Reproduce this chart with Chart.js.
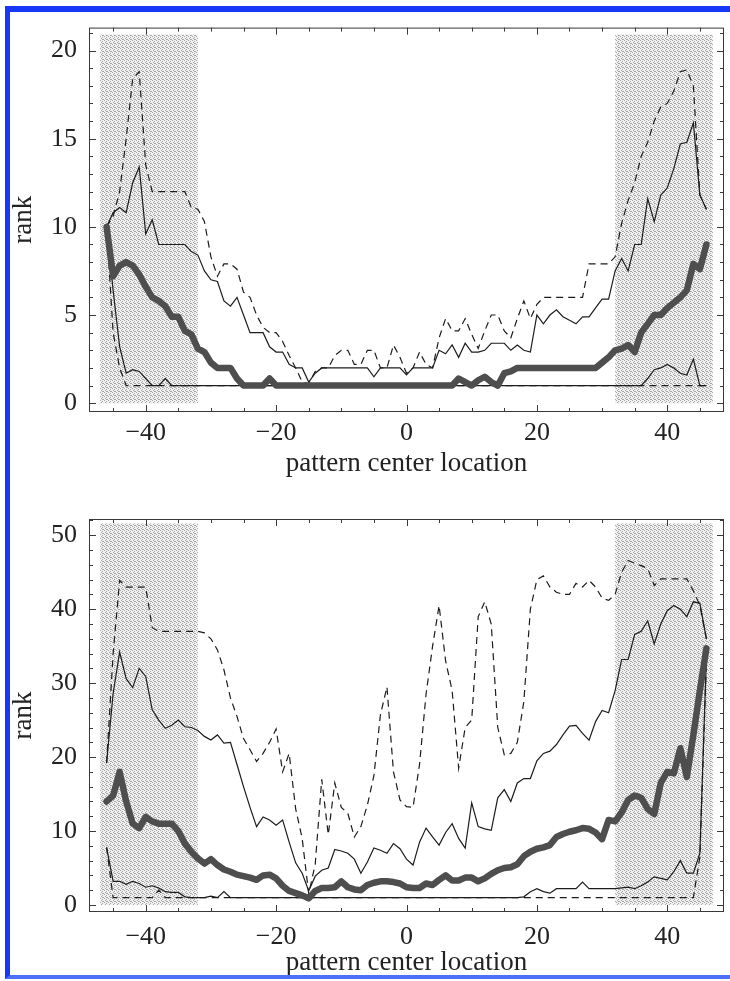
<!DOCTYPE html>
<html>
<head>
<meta charset="utf-8">
<script src="https://cdn.jsdelivr.net/npm/chart.js@4.4.1/dist/chart.umd.min.js"></script>
<style>
  html, body { margin: 0; padding: 0; background: #fff; }
  #page { position: relative; width: 730px; height: 981px; overflow: hidden; background: #fff; }
  #page canvas { position: absolute; left: 0; }
  #chartTop { top: 0; }
  #chartBottom { top: 490px; }
  #frame {
    position: absolute; left: 5px; top: 6px; right: 0; height: 963px;
    border-top: 6px solid #1738f6; border-left: 5px solid #1738f6; border-bottom: 4px solid #4d70fa;
    pointer-events: none;
  }
</style>
</head>
<body>
<div id="page">
  <canvas id="chartTop" width="730" height="490"></canvas>
  <canvas id="chartBottom" width="730" height="491"></canvas>
  <div id="frame"></div>
</div>
<script>
// pattern center locations
var xs = [-46, -45, -44, -43, -42, -41, -40, -39, -38, -37,
  -36, -35, -34, -33, -32, -31, -30, -29, -28, -27,
  -26, -25, -24, -23, -22, -21, -20, -19, -18, -17,
  -16, -15, -14, -13, -12, -11, -10, -9, -8, -7,
  -6, -5, -4, -3, -2, -1, 0, 1, 2, 3,
  4, 5, 6, 7, 8, 9, 10, 11, 12, 13,
  14, 15, 16, 17, 18, 19, 20, 21, 22, 23,
  24, 25, 26, 27, 28, 29, 30, 31, 32, 33,
  34, 35, 36, 37, 38, 39, 40, 41, 42, 43,
  44, 45, 46];

// upper panel (one line = ten locations)
var topMedian = [10, 7.2, 7.8, 8.0, 7.8, 7.3, 6.6, 6.0, 5.8, 5.5,
  4.9, 4.9, 4.1, 3.9, 3.1, 2.9, 2.3, 2.0, 2.0, 2.0,
  1.4, 1.0, 1.0, 1.0, 1.0, 1.4, 1.0, 1, 1, 1,
  1, 1, 1, 1, 1, 1, 1, 1, 1, 1,
  1, 1, 1, 1, 1, 1, 1, 1, 1, 1,
  1, 1, 1, 1, 1.4, 1.2, 1.0, 1.3, 1.5, 1.2,
  1.0, 1.7, 1.8, 2.0, 2, 2, 2, 2, 2, 2,
  2, 2, 2, 2, 2, 2, 2.3, 2.6, 3.0, 3.1,
  3.3, 2.9, 4.0, 4.5, 5.0, 5.0, 5.4, 5.7, 6.0, 6.4,
  7.9, 7.6, 9.0];
var topUpper = [10, 10.8, 11.1, 10.8, 12.5, 13.4, 9.6, 10.4, 9.0, 9.0,
  9.0, 9.0, 9.0, 8.6, 8.4, 7.5, 7.0, 6.9, 5.8, 5.5,
  6.0, 5.0, 4.0, 4.0, 4.0, 3.2, 2.9, 2.9, 2.2, 2.0,
  2.0, 1.2, 1.7, 2.0, 2, 2, 2, 2, 2, 2,
  2, 1.5, 2, 2, 2, 2, 1.6, 2, 2, 2,
  2, 3.0, 2.8, 3.3, 2.6, 3.4, 2.9, 2.9, 3.0, 3.4,
  3.4, 3.4, 3.0, 3.3, 3.0, 2.9, 5.0, 4.5, 5.0, 5.3,
  4.9, 4.7, 4.5, 4.9, 4.9, 5.4, 5.9, 5.9, 7.5, 8.2,
  7.5, 9.0, 9.0, 11.6, 10.3, 11.8, 12.2, 13.3, 14.7, 14.8,
  15.9, 11.8, 11.0];
var topMax = [10, 10.6, 12.0, 15.0, 18.4, 18.8, 13.5, 12.0, 12.0, 12.0,
  12.0, 12.0, 12.0, 11.1, 11.0, 10.3, 8.3, 7.2, 7.9, 7.9,
  7.6, 6.3, 6.0, 5.0, 4.3, 4.0, 4.0, 3.5, 2.7, 2.0,
  1.2, 1.1, 1.8, 2.0, 2.0, 2.7, 3.0, 3.0, 2.2, 2.2,
  3.0, 3.0, 2.0, 2.0, 3.3, 2.6, 1.7, 2.0, 2.9, 2.2,
  2.0, 3.7, 4.8, 4.1, 4.1, 4.8, 3.9, 3.1, 4.1, 5.0,
  5.0, 4.1, 3.7, 4.8, 5.8, 4.8, 5.6, 6.0, 6, 6,
  6, 6, 6, 6, 7.9, 7.9, 7.9, 7.9, 8.3, 10.2,
  11.5, 12.5, 14.0, 14.8, 16.0, 16.8, 17.0, 17.7, 18.8, 18.9,
  18.0, 11.8, 11.0];
var topLower = [10, 6.4, 3.2, 1.7, 1.9, 1.8, 1.4, 1.0, 1.0, 1.4,
  1, 1, 1, 1, 1, 1, 1, 1, 1, 1,
  1, 1, 1, 1, 1, 1, 1, 1, 1, 1,
  1, 1, 1, 1, 1, 1, 1, 1, 1, 1,
  1, 1, 1, 1, 1, 1, 1, 1, 1, 1,
  1, 1, 1, 1, 1, 1, 1, 1, 1, 1,
  1, 1, 1, 1, 1, 1, 1, 1, 1, 1,
  1, 1, 1, 1, 1, 1, 1, 1, 1, 1,
  1, 1, 1, 1.4, 1.9, 2.0, 2.2, 2.0, 1.7, 1.6,
  2.5, 1.0, 1.0];
var topMin = [10, 4, 2, 1, 1, 1, 1, 1, 1, 1,
  1, 1, 1, 1, 1, 1, 1, 1, 1, 1,
  1, 1, 1, 1, 1, 1, 1, 1, 1, 1,
  1, 1, 1, 1, 1, 1, 1, 1, 1, 1,
  1, 1, 1, 1, 1, 1, 1, 1, 1, 1,
  1, 1, 1, 1, 1, 1, 1, 1, 1, 1,
  1, 1, 1, 1, 1, 1, 1, 1, 1, 1,
  1, 1, 1, 1, 1, 1, 1, 1, 1, 1,
  1, 1, 1, 1, 1, 1, 1, 1, 1, 1,
  1, 1, 1];

// lower panel (one line = ten locations)
var botMedian = [14, 14.8, 18, 14, 11.0, 10.4, 11.9, 11.3, 11.0, 11.0,
  11.0, 10.0, 8.3, 7.2, 6.3, 5.6, 6.2, 5.4, 4.8, 4.5,
  4.1, 3.9, 3.7, 3.4, 4.0, 4.1, 3.6, 2.6, 1.9, 1.6,
  1.3, 0.9, 1.9, 2.3, 2.3, 2.4, 3.2, 2.4, 2.1, 2.0,
  2.7, 3.0, 3.2, 3.2, 3.1, 2.9, 2.4, 2.3, 2.3, 2.9,
  2.7, 3.4, 4.0, 3.3, 3.3, 3.7, 3.7, 3.2, 3.6, 4.2,
  4.7, 5.0, 5.1, 5.5, 6.6, 7.2, 7.6, 7.8, 8.1, 9.2,
  9.6, 9.9, 10.1, 10.4, 10.3, 9.8, 8.9, 11.5, 11.3, 12.5,
  14.2, 14.8, 14.5, 13.0, 12.3, 16.5, 18.0, 17.8, 21.2, 17.3,
  23.0, 29.0, 34.7];
var botUpper = [19.2, 28.6, 34.2, 30.6, 29.4, 32.0, 30.9, 26.4, 25.0, 23.9,
  24.3, 25.0, 24.1, 24.0, 23.6, 22.8, 22.3, 23.0, 21.9, 22.0,
  19.0, 16.0, 13.2, 10.6, 11.9, 11.5, 10.8, 11.5, 8.5, 5.7,
  4.3, 1.9, 3.9, 4.7, 5.0, 7.5, 7.3, 7.0, 6.2, 4.3,
  5.8, 7.7, 7.4, 7.0, 8.3, 7.6, 6.2, 5.4, 8.5, 10.4,
  9.2, 8.1, 9.8, 11.0, 9.0, 7.7, 13.8, 10.6, 10.3, 10.1,
  14.5, 15.6, 14.0, 16.5, 17.1, 17.1, 19.5, 20.5, 20.8, 21.7,
  23.0, 24.2, 24.3, 23.2, 22.3, 24.8, 26.3, 26.0, 29.0, 33.2,
  33.2, 36.6, 37.0, 38.4, 35.3, 38.0, 39.8, 40.5, 40.0, 39.0,
  41.0, 40.8, 36.0];
var botMax = [19.2, 34.0, 43.9, 43.0, 43.0, 43.0, 43.0, 37.5, 37, 37,
  37, 37, 37, 37, 37, 36.8, 36.0, 34.5, 31.8, 28.0,
  25.5, 22.5, 21.0, 19.4, 20.5, 22.0, 23.8, 18.0, 20.5, 13.0,
  9.0, 1.5, 5.5, 17.0, 9.5, 16.5, 13.2, 12.4, 9.2, 10.6,
  13.5, 17.5, 25.7, 29.5, 18.0, 14.2, 13.3, 13.2, 19.0, 28.5,
  35.0, 40.5, 33.0, 29.0, 18.5, 24.0, 25.0, 39.0, 41.0, 38.0,
  24.0, 20.3, 20.5, 22.0, 27.5, 40.0, 44.0, 44.5, 43.0, 42.3,
  42.0, 42.0, 43.5, 43.0, 43.9, 43.0, 41.5, 41.2, 42.0, 45.0,
  46.6, 46.2, 45.9, 45.5, 43.2, 44.1, 44.1, 44.1, 44.1, 44.1,
  42.5, 40.5, 36.0];
var botLower = [7.8, 3.2, 3.2, 2.8, 3.2, 2.9, 2.4, 2.6, 2.3, 1.8,
  1.7, 1.7, 1.1, 1, 1, 1, 1.2, 1.0, 1.8, 1.0,
  1, 1, 1, 1, 1, 1, 1, 1, 1, 1,
  1, 1, 1, 1, 1, 1, 1, 1, 1, 1,
  1, 1, 1, 1, 1, 1, 1, 1, 1, 1,
  1, 1, 1, 1, 1, 1, 1, 1, 1, 1,
  1, 1, 1, 1, 1.1, 1.8, 2.2, 1.8, 1.6, 2.2,
  2.2, 2.2, 2.2, 3.1, 2.2, 2.2, 2.2, 2.2, 2.2, 2.3,
  2.4, 2.2, 2.6, 3.1, 3.8, 3.6, 3.4, 4.5, 6.0, 4.3,
  4.3, 7.0, 33.6];
var botMin = [7.8, 1, 1, 1, 1, 1, 1, 1, 2.0, 1,
  1, 1, 1, 1, 1, 1, 1, 1, 1, 1,
  1, 1, 1, 1, 1, 1, 1, 1, 1, 1,
  1, 1, 1, 1, 1, 1, 1, 1, 1, 1,
  1, 1, 1, 1, 1, 1, 1, 1, 1, 1,
  1, 1, 1, 1, 1, 1, 1, 1, 1, 1,
  1, 1, 1, 1, 1, 1, 1, 1, 1, 1,
  1, 1, 1, 1, 1, 1, 1, 1, 1, 1,
  1, 1, 1, 1, 1, 1, 1, 1, 1, 1,
  1, 6.5, 33];

// axis ticks
var xTicks = [-40, -20, 0, 20, 40];
var topYTicks = [0, 5, 10, 15, 20];
var bottomYTicks = [0, 10, 20, 30, 40, 50];

// shaded edge bands (x from, x to)
var shadeBands = [[-47, -32], [32, 47]];

var serif = "'Liberation Serif', 'DejaVu Serif', serif";

function pts(ys) {
  return xs.map(function(x, i) { return { x: x, y: ys[i] }; });
}

function fmt(v) {
  return v < 0 ? '\u2212' + Math.abs(v) : String(v);
}

function stipple(ctx) {
  var c = document.createElement('canvas');
  c.width = 4; c.height = 4;
  var g = c.getContext('2d');
  g.fillStyle = '#f1f1f1';
  g.fillRect(0, 0, 4, 4);
  g.fillStyle = '#a6a6a6';
  [[0, 0], [2, 1], [1, 2], [3, 3], [2, 3]].forEach(function(p) { g.fillRect(p[0], p[1], 1, 1); });
  return ctx.createPattern(c, 'repeat');
}

// grey stippled bands behind the lines
var shadePlugin = {
  id: 'shade',
  beforeDatasetsDraw: function(chart, args, opts) {
    var ctx = chart.ctx, x = chart.scales.x, y = chart.scales.y;
    ctx.save();
    ctx.fillStyle = stipple(ctx);
    shadeBands.forEach(function(b) {
      var l = x.getPixelForValue(b[0]), r = x.getPixelForValue(b[1]);
      var t = y.getPixelForValue(opts.top), bt = y.getPixelForValue(0);
      ctx.fillRect(l, t, r - l, bt - t);
    });
    ctx.restore();
  }
};

// box frame with inward tick marks on all four sides
var frameTicks = {
  id: 'frameTicks',
  afterDraw: function(chart, args, opts) {
    var ctx = chart.ctx, a = chart.chartArea, x = chart.scales.x, y = chart.scales.y;
    ctx.save();
    ctx.strokeStyle = '#3a3a3a';
    ctx.lineWidth = 1;
    ctx.strokeRect(a.left + 0.5, a.top + 0.5, a.right - a.left - 1, a.bottom - a.top - 1);
    ctx.beginPath();
    for (var v = -45; v <= 45; v += 5) {
      var len = v % 20 === 0 ? 7 : 4;
      var px = Math.round(x.getPixelForValue(v)) + 0.5;
      ctx.moveTo(px, a.bottom); ctx.lineTo(px, a.bottom - len);
      ctx.moveTo(px, a.top); ctx.lineTo(px, a.top + len);
    }
    for (var w = 0; w <= opts.yMax; w += opts.yMinor) {
      var l2 = w % opts.yMajor === 0 ? 7 : 4;
      var py = Math.round(y.getPixelForValue(w)) + 0.5;
      ctx.moveTo(a.left, py); ctx.lineTo(a.left + l2, py);
      ctx.moveTo(a.right, py); ctx.lineTo(a.right - l2, py);
    }
    ctx.stroke();
    ctx.restore();
  }
};

function lineSets(median, upper, max, lower, min) {
  var thin = { borderColor: '#1c1c1c', borderWidth: 1.2 };
  return [
    { label: 'median', data: pts(median), borderColor: '#4e4e4e', borderWidth: 6.5,
      borderJoinStyle: 'round', borderCapStyle: 'round', order: 0 },
    Object.assign({ label: 'upper quartile', data: pts(upper), order: 1 }, thin),
    Object.assign({ label: 'maximum', data: pts(max), borderDash: [7, 5], order: 2 }, thin),
    Object.assign({ label: 'lower quartile', data: pts(lower), order: 3 }, thin),
    Object.assign({ label: 'minimum', data: pts(min), borderDash: [7, 5], order: 4 }, thin)
  ];
}

function makePanel(id, sets, cfg) {
  new Chart(document.getElementById(id), {
    type: 'line',
    data: { datasets: sets },
    plugins: [shadePlugin, frameTicks],
    options: {
      responsive: false,
      animation: false,
      events: [],
      layout: { padding: { left: 0, right: 6, top: cfg.padTop, bottom: 0 } },
      elements: { point: { radius: 0 }, line: { tension: 0, fill: false } },
      plugins: {
        legend: { display: false },
        tooltip: { enabled: false },
        shade: { top: cfg.shadeTop },
        frameTicks: { yMax: cfg.yMax, yMinor: cfg.yMinor, yMajor: cfg.yMajor }
      },
      scales: {
        x: {
          type: 'linear', min: -48.7, max: 48.7,
          grid: { display: false, drawTicks: false },
          border: { display: false },
          afterBuildTicks: function(s) { s.ticks = xTicks.map(function(v) { return { value: v }; }); },
          afterFit: function(s) { s.height = cfg.xAxisHeight; },
          ticks: { font: { family: serif, size: 26 }, color: '#222', padding: cfg.xTickPad,
                   maxRotation: 0, callback: fmt },
          title: { display: true, text: 'pattern center location', color: '#222',
                   font: { family: serif, size: 27 }, padding: { top: 0, bottom: cfg.titlePad } }
        },
        y: {
          type: 'linear', min: cfg.yMin, max: cfg.yTop,
          grid: { display: false, drawTicks: false },
          border: { display: false },
          afterBuildTicks: function(s) { s.ticks = cfg.yTicks.map(function(v) { return { value: v }; }); },
          afterFit: function(s) { s.width = 89; },
          ticks: { font: { family: serif, size: 26 }, color: '#222', padding: 12 },
          title: { display: true, text: 'rank', color: '#222',
                   font: { family: serif, size: 27 }, padding: { top: 8, bottom: 0 } }
        }
      }
    }
  });
}

makePanel('chartTop', lineSets(topMedian, topUpper, topMax, topLower, topMin), {
  padTop: 20, xAxisHeight: 78, xTickPad: 6, titlePad: 10,
  yMin: -0.5, yTop: 21.3, yTicks: topYTicks, shadeTop: 20.9,
  yMax: 21, yMinor: 1, yMajor: 5
});

makePanel('chartBottom', lineSets(botMedian, botUpper, botMax, botLower, botMin), {
  padTop: 29, xAxisHeight: 69, xTickPad: 10, titlePad: 2,
  yMin: -0.95, yTop: 52.2, yTicks: bottomYTicks, shadeTop: 51.6,
  yMax: 52, yMinor: 2, yMajor: 10
});
</script>
</body>
</html>
